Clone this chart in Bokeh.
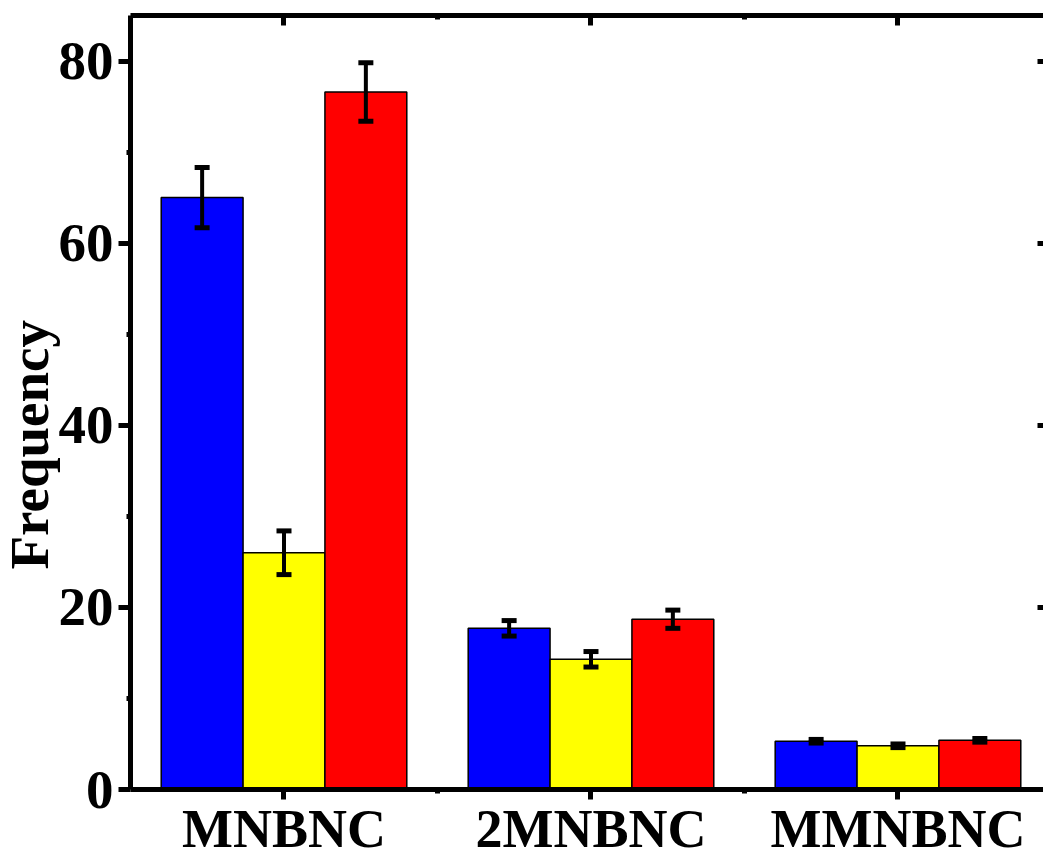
from bokeh.plotting import figure
from bokeh.models import (Range1d, FixedTicker, LinearAxis, Whisker, TeeHead,
                          ColumnDataSource, Title)
from bokeh.embed import file_html
from bokeh.resources import INLINE

categories = ["MNBNC", "2MNBNC", "MMNBNC"]
blue_vals = [65.0, 17.7, 5.3]
blue_err = [3.3, 0.85, 0.2]
yellow_vals = [26.0, 14.3, 4.8]
yellow_err = [2.4, 0.85, 0.2]
red_vals = [76.6, 18.7, 5.4]
red_err = [3.2, 1.0, 0.2]
y_ticks = [0, 20, 40, 60, 80]
y_minor = [10, 30, 50, 70]

FONT = "Liberation Serif"
BAR_W = 0.8 / 3

p = figure(width=1043, height=861, output_backend="svg", toolbar_location=None,
           x_range=Range1d(0.5, 3.474), y_range=Range1d(0, 85),
           min_border_left=130, min_border_right=0, min_border_top=15,
           min_border_bottom=72, x_axis_location=None, y_axis_location=None)
p.outline_line_color = None
p.xgrid.visible = False
p.ygrid.visible = False
p.background_fill_color = "white"

xpos = [1, 2, 3]
series = [(blue_vals, blue_err, "#0000FF", -BAR_W),
          (yellow_vals, yellow_err, "#FFFF00", 0.0),
          (red_vals, red_err, "#FF0000", BAR_W)]
for vals, errs, col, off in series:
    xs = [x + off for x in xpos]
    src = ColumnDataSource(dict(x=xs, top=vals,
                                upper=[v + e for v, e in zip(vals, errs)],
                                lower=[v - e for v, e in zip(vals, errs)]))
    p.vbar(x="x", top="top", bottom=0, width=BAR_W, source=src,
           fill_color=col, line_color="black", line_width=1.5)
    w = Whisker(base="x", upper="upper", lower="lower", source=src,
                line_color="black", line_width=4, level="overlay",
                upper_head=TeeHead(size=15, line_width=5, line_color="black"),
                lower_head=TeeHead(size=15, line_width=5, line_color="black"))
    p.add_layout(w)

xt = FixedTicker(ticks=xpos, minor_ticks=[1.5, 2.5])
yt = FixedTicker(ticks=y_ticks, minor_ticks=y_minor)

def style(ax, lw=5):
    ax.axis_line_width = lw
    ax.axis_line_color = "black"
    ax.major_tick_line_width = 5
    ax.minor_tick_line_width = 5
    ax.major_tick_line_color = "black"
    ax.minor_tick_line_color = "black"
    ax.major_label_text_font = FONT
    ax.major_label_text_font_style = "bold"
    ax.major_label_text_color = "black"

left = LinearAxis(ticker=yt)
style(left)
left.major_tick_out = 12
left.major_tick_in = 0
left.minor_tick_out = 4
left.minor_tick_in = 0
left.major_label_text_font_size = "55px"
left.major_label_standoff = 5
p.add_layout(left, "left")

bottom = LinearAxis(ticker=xt)
style(bottom)
bottom.major_tick_out = 10
bottom.major_tick_in = 0
bottom.minor_tick_out = 4
bottom.minor_tick_in = 0
bottom.major_label_text_font_size = "54px"
bottom.major_label_standoff = -1
bottom.major_label_overrides = {1: categories[0], 2: categories[1], 3: categories[2]}
p.add_layout(bottom, "below")

top = LinearAxis(ticker=xt)
style(top)
top.major_tick_out = 0
top.major_tick_in = 10
top.minor_tick_out = 0
top.minor_tick_in = 4
top.major_label_text_font_size = "0px"
top.major_label_text_alpha = 0
top.major_label_standoff = 0
p.add_layout(top, "above")

right = LinearAxis(ticker=FixedTicker(ticks=y_ticks, minor_ticks=[]))
style(right)
right.axis_line_alpha = 0
right.major_tick_out = 0
right.major_tick_in = 6
right.major_label_text_font_size = "0px"
right.major_label_text_alpha = 0
right.major_label_standoff = 0
p.add_layout(right, "right")

ylab = Title(text="Frequency", align="left", offset=220, standoff=-8,
             text_font=FONT, text_font_style="bold", text_font_size="55px",
             text_color="black")
p.add_layout(ylab, "left")

open("out.html", "w").write(file_html(p, INLINE))
